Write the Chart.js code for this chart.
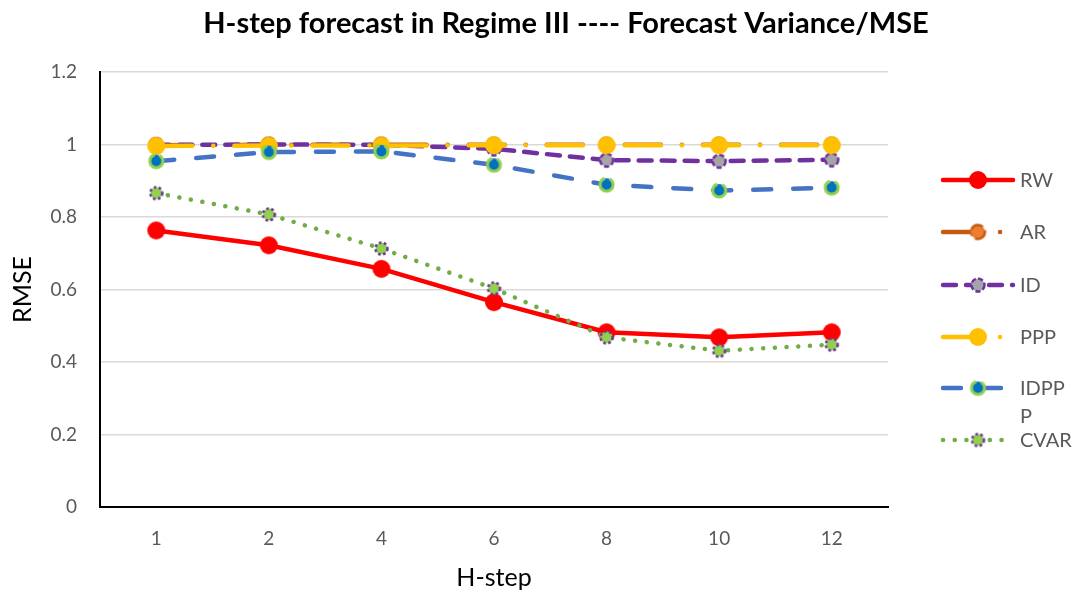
<!DOCTYPE html>
<html>
<head>
<meta charset="utf-8">
<script src="https://cdn.jsdelivr.net/npm/chart.js@4/dist/chart.umd.min.js"></script>
<style>
  html, body { margin: 0; padding: 0; background: #ffffff; }
  #wrap { width: 1082px; height: 602px; position: relative; }
</style>
</head>
<body>
<div id="wrap"><canvas id="chart" width="1082" height="602"></canvas></div>
<script>
// Forecast horizons and RMSE per model
const categories = ['1', '2', '4', '6', '8', '10', '12'];
const rwValues    = [0.763, 0.722, 0.657, 0.565, 0.482, 0.468, 0.482];
const arValues    = [0.998, 0.999, 0.999, 0.999, 0.999, 0.999, 0.999];
const idValues    = [0.999, 1.000, 0.999, 0.988, 0.957, 0.954, 0.958];
const pppValues   = [0.996, 0.997, 0.997, 0.998, 0.998, 0.998, 0.998];
const idpppValues = [0.954, 0.979, 0.981, 0.944, 0.889, 0.873, 0.881];
const cvarValues  = [0.866, 0.807, 0.713, 0.603, 0.468, 0.431, 0.448];
const yTickValues = [0, 0.2, 0.4, 0.6, 0.8, 1, 1.2];
const seriesNames = ['RW', 'AR', 'ID', 'PPP', 'IDPPP', 'CVAR'];

const chartTitle = 'H-step forecast in Regime III ---- Forecast Variance/MSE';
const FONT = 'Lato, "Open Sans", "Liberation Sans", sans-serif';

// Circular marker drawn on a small canvas so its outline can be dashed
function makeMarker(r, fill, stroke, lw, dash) {
  const size = Math.ceil(2 * (r + lw)) + 2;
  const c = document.createElement('canvas');
  c.width = size; c.height = size;
  const g = c.getContext('2d');
  g.beginPath();
  g.arc(size / 2, size / 2, r, 0, Math.PI * 2);
  g.fillStyle = fill;
  g.fill();
  if (lw > 0) {
    g.lineWidth = lw;
    g.strokeStyle = stroke;
    g.setLineDash(dash || []);
    g.stroke();
  }
  return c;
}

const markers = {
  RW:    makeMarker(9, '#FF0000', '#FF0000', 0),
  AR:    makeMarker(7, '#ED7D31', '#C55A11', 2.5, [14, 4, 2, 4]),
  ID:    makeMarker(6.5, '#A5A5A5', '#7030A0', 2.5, [5, 2.5]),
  PPP:   makeMarker(9, '#FFC000', '#FFC000', 0),
  IDPPP: makeMarker(6.5, '#0070C0', '#92D050', 3, [28, 5]),
  CVAR:  makeMarker(6, '#92D050', '#7030A0', 2.5, [2.5, 2.5])
};

const dashDot = [36, 21, 0.1, 21];

function series(name, data, color, dash, order) {
  return {
    label: name,
    data: data,
    borderColor: color,
    backgroundColor: color,
    borderWidth: 4.5,
    borderDash: dash,
    borderCapStyle: 'round',
    borderJoinStyle: 'round',
    tension: 0,
    pointStyle: markers[name],
    pointRadius: 8,
    order: order
  };
}

const datasets = [
  series(seriesNames[0], rwValues, '#FF0000', [], 6),
  series(seriesNames[1], arValues, '#C55A11', dashDot, 5),
  series(seriesNames[2], idValues, '#7030A0', [13, 10], 4),
  series(seriesNames[3], pppValues, '#FFC000', dashDot, 3),
  series(seriesNames[4], idpppValues, '#4472C4', [18, 22], 2),
  series(seriesNames[5], cvarValues, '#70AD47', [0.1, 11.6], 1)
];

// Title centred over the whole figure
const titlePlugin = {
  id: 'figureTitle',
  afterDraw(chart) {
    const ctx = chart.ctx;
    ctx.save();
    ctx.font = 'bold 29px ' + FONT;
    ctx.fillStyle = '#000000';
    ctx.textAlign = 'center';
    ctx.textBaseline = 'alphabetic';
    ctx.fillText(chartTitle, 566, 33);
    ctx.restore();
  }
};

// Legend on the right: line sample with marker, label wrapped to the column
const legendPlugin = {
  id: 'sideLegend',
  afterDraw(chart) {
    const ctx = chart.ctx;
    const x0 = 943, x1 = 1013, textX = 1020, maxTextW = 55;
    const rowY = [180, 232, 285, 337, 388, 440];
    ctx.save();
    chart.data.datasets.forEach((ds, i) => {
      const y = rowY[i];
      ctx.save();
      ctx.strokeStyle = ds.borderColor;
      ctx.lineWidth = ds.borderWidth;
      ctx.lineCap = ds.borderCapStyle;
      ctx.setLineDash(ds.borderDash);
      ctx.beginPath();
      ctx.moveTo(x0, y);
      ctx.lineTo(x1, y);
      ctx.stroke();
      ctx.restore();
      const m = ds.pointStyle;
      ctx.drawImage(m, (x0 + x1) / 2 - m.width / 2, y - m.height / 2);

      ctx.font = '20px ' + FONT;
      ctx.fillStyle = '#595959';
      ctx.textAlign = 'left';
      ctx.textBaseline = 'middle';
      const lines = [];
      let cur = '';
      for (const ch of ds.label) {
        if (cur && ctx.measureText(cur + ch).width > maxTextW) { lines.push(cur); cur = ch; }
        else cur += ch;
      }
      lines.push(cur);
      lines.forEach((t, k) => ctx.fillText(t, textX, y + 1 + k * 28));
    });
    ctx.restore();
  }
};

new Chart(document.getElementById('chart'), {
  type: 'line',
  data: { labels: categories, datasets: datasets },
  plugins: [titlePlugin, legendPlugin],
  options: {
    responsive: false,
    animation: false,
    events: [],
    layout: { padding: { top: 72, right: 194, bottom: 0, left: 0 } },
    plugins: {
      legend: { display: false },
      title: { display: false },
      tooltip: { enabled: false }
    },
    scales: {
      x: {
        offset: true,
        grid: { display: false, drawTicks: false },
        border: { display: true, color: '#000000', width: 2 },
        ticks: { color: '#595959', font: { family: FONT, size: 19 }, padding: 20 },
        title: { display: true, text: 'H-step', color: '#000000', font: { family: FONT, size: 25 }, padding: { top: 0, bottom: 9 } },
        afterFit(scale) { scale.height = 95; }
      },
      y: {
        min: 0,
        max: 1.2,
        afterBuildTicks(scale) { scale.ticks = yTickValues.map(v => ({ value: v })); },
        grid: { color: '#D9D9D9', lineWidth: 1.5, drawTicks: false },
        border: { display: true, color: '#000000', width: 2 },
        ticks: {
          color: '#595959',
          font: { family: FONT, size: 19 },
          padding: 23,
          callback: v => String(Number(v.toFixed(1)))
        },
        title: { display: true, text: 'RMSE', color: '#000000', font: { family: FONT, size: 25 }, padding: { top: 8, bottom: 0 } },
        afterFit(scale) { scale.width = 100; }
      }
    }
  }
});
</script>
</body>
</html>
